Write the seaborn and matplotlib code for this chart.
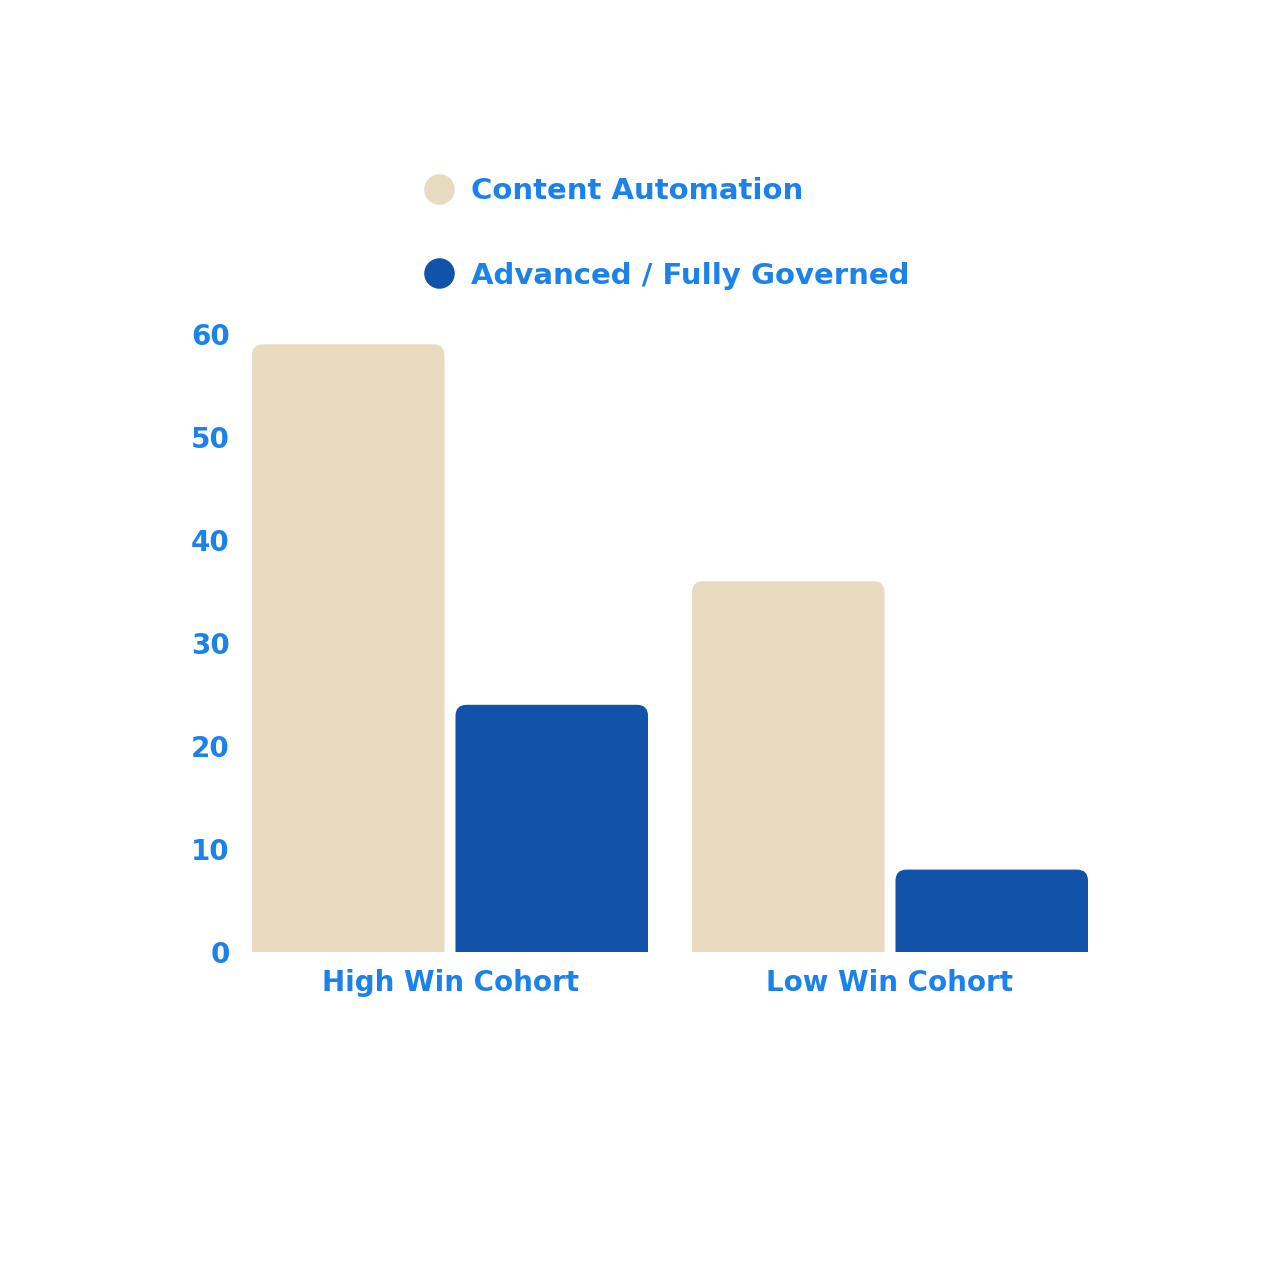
import pandas as pd
import numpy as np
import matplotlib
matplotlib.use("Agg")
import matplotlib.pyplot as plt
import seaborn as sns
from matplotlib.patches import FancyBboxPatch
from matplotlib.lines import Line2D

# Dane wykresu
cohorts = ["High Win Cohort", "Low Win Cohort"]
series = ["Content Automation", "Advanced / Fully Governed"]
content_automation = [59, 36]
advanced_governed = [24, 8]
y_ticks = [0, 10, 20, 30, 40, 50, 60]

beige = "#E8DBBF"
navy = "#1252A9"
text_blue = "#1A82EA"

df = pd.DataFrame({
    "cohort": cohorts * 2,
    "series": [series[0]] * 2 + [series[1]] * 2,
    "value": content_automation + advanced_governed,
})

sns.set_style("white")
plt.rcParams['font.family'] = ['DejaVu Sans']

fig = plt.figure(figsize=(12.8, 12.8), dpi=100)
ax = fig.add_axes([252 / 1280, 1 - 952 / 1280, 836 / 1280, (952 - 334) / 1280])

sns.barplot(data=df, x="cohort", y="value", hue="series", order=cohorts, hue_order=series,
            palette=[beige, navy], width=0.925, gap=0.054, ax=ax, legend=False,
            saturation=1, edgecolor="none", linewidth=0)

# Zaokraglone gorne rogi slupkow (dolne rogi schowane ponizej osi i przyciete)
r_x = 0.025
aspect = (60 / 618) / (1 / 440)
below = 2.0
for p in list(ax.patches):
    x, w, h = p.get_x(), p.get_width(), p.get_height()
    rounded = FancyBboxPatch((x, -below), w, h + below, boxstyle=f"round,pad=0,rounding_size={r_x}",
                             mutation_aspect=aspect, facecolor=p.get_facecolor(),
                             edgecolor="none", clip_on=True)
    ax.add_patch(rounded)
    p.set_visible(False)

ax.set_xlim(-0.45, 1.45)
ax.set_ylim(0, 60)
ax.set_yticks(y_ticks)
ax.set_xlabel("")
ax.set_ylabel("")
sns.despine(ax=ax, left=True, bottom=True)
ax.tick_params(axis="both", length=0, labelsize=20, labelcolor=text_blue)
ax.tick_params(axis="y", pad=16)
ax.tick_params(axis="x", pad=12)
for lbl in ax.get_xticklabels() + ax.get_yticklabels():
    lbl.set_fontweight("bold")

handles = [Line2D([], [], marker="o", linestyle="none", markersize=22,
                  markerfacecolor=c, markeredgecolor="none") for c in [beige, navy]]
leg = fig.legend(handles, series, loc="upper left", bbox_to_anchor=(424 / 1280, 1 - 177 / 1280),
                 frameon=False, fontsize=21, handlelength=1.0, handletextpad=0.6,
                 labelspacing=1.94, borderpad=0, borderaxespad=0)
for t in leg.get_texts():
    t.set_color(text_blue)
    t.set_fontweight("bold")

fig.savefig("out.png", dpi=100, facecolor="white")
